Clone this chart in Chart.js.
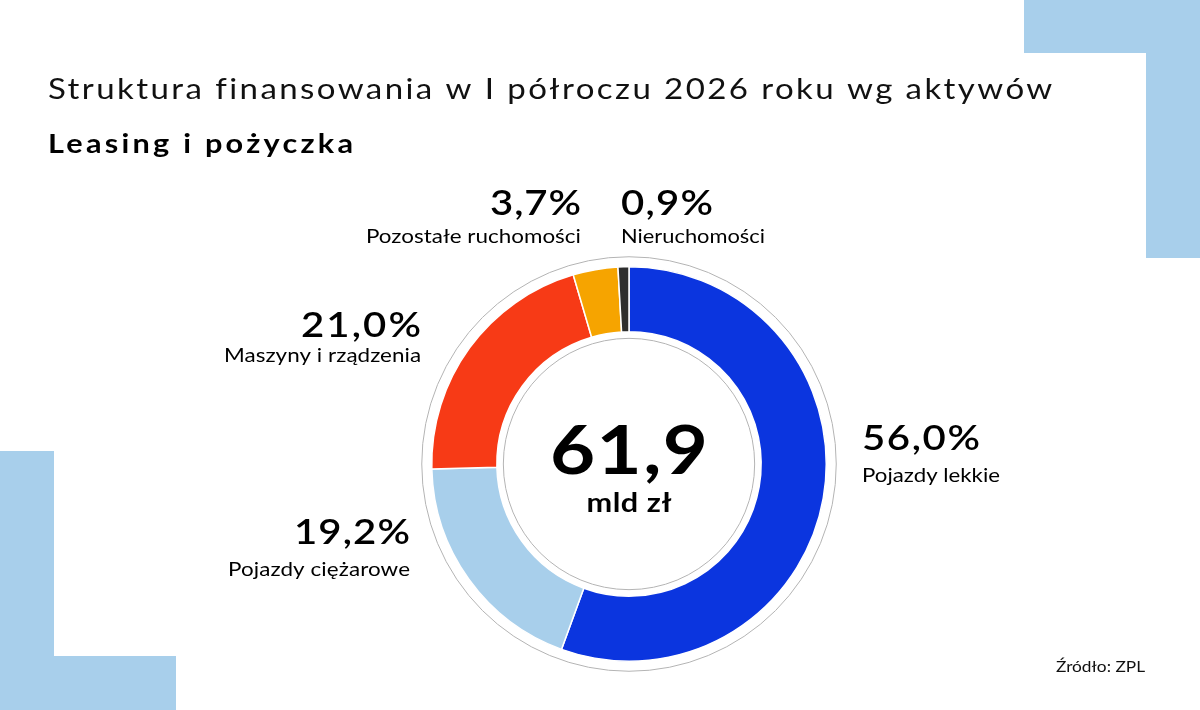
<!DOCTYPE html>
<html>
<head>
<meta charset="utf-8">
<script src="https://cdn.jsdelivr.net/npm/chart.js@4.4.1/dist/chart.umd.min.js"></script>
<style>
  html, body { margin: 0; padding: 0; background: #ffffff; }
  #wrap { position: relative; width: 1200px; height: 710px; overflow: hidden; background: #fff; }
  .deco { position: absolute; background: #a8cfeb; }
  canvas { position: absolute; left: 0; top: 0; }
</style>
</head>
<body>
<div id="wrap">
  <div class="deco" style="left:1024px;top:0;width:176px;height:53px"></div>
  <div class="deco" style="left:1146px;top:0;width:54px;height:258px"></div>
  <div class="deco" style="left:0;top:451px;width:54px;height:259px"></div>
  <div class="deco" style="left:0;top:656px;width:176px;height:54px"></div>
  <canvas id="c" width="1200" height="710"></canvas>
</div>
<script>
// ---- data ----
const titleText = 'Struktura finansowania w I półroczu 2026 roku wg aktywów';
const subtitleText = 'Leasing i pożyczka';
const categories = ['Pojazdy lekkie', 'Pojazdy ciężarowe', 'Maszyny i rządzenia', 'Pozostałe ruchomości', 'Nieruchomości'];
const shares = [56.0, 19.2, 21.0, 3.7, 0.9];
const totalValue = '61,9';
const totalUnit = 'mld zł';
const sourceText = 'Źródło: ZPL';

// ---- styles / layout ----
const sliceColors = ['#0b35df', '#a8cfeb', '#f73a16', '#f6a400', '#2e2e2e'];
const FONT = 'Lato, "Noto Sans", sans-serif';
// per-category label layout: anchor x, alignment, baselines, target widths
const labelLayout = [
  { x: 862, align: 'left',  pctY: 450, nameY: 482, pctW: 118, nameW: 138 },
  { x: 410, align: 'right', pctY: 544, nameY: 576, pctW: 116, nameW: 182 },
  { x: 421, align: 'right', pctY: 337, nameY: 362, pctW: 120, nameW: 197 },
  { x: 581, align: 'right', pctY: 215, nameY: 243, pctW: 91,  nameW: 215 },
  { x: 621, align: 'left',  pctY: 215, nameY: 243, pctW: 92,  nameW: 144 }
];

function fmtPct(v) { return v.toFixed(1).replace('.', ',') + '%'; }

function drawFitted(ctx, text, x, y, font, align, targetW, color, maxScale) {
  ctx.save();
  ctx.font = font;
  ctx.fillStyle = color || '#000';
  ctx.textBaseline = 'alphabetic';
  ctx.textAlign = 'left';
  const hasLS = ('letterSpacing' in ctx);
  if (hasLS) ctx.letterSpacing = '0px';
  const w = ctx.measureText(text).width;
  let startX = x;
  if (align === 'right') startX = x - targetW;
  else if (align === 'center') startX = x - targetW / 2;
  const n = [...text].length;
  const ratio = targetW / w;
  const ms = maxScale || 1.18;
  let sx = ratio < 1 ? ratio : Math.min(ratio, ms);
  if (!hasLS) sx = ratio;
  ctx.translate(startX, y);
  ctx.scale(sx, 1);
  if (hasLS && n > 1 && ratio > sx) {
    const sp = (targetW / sx - w) / (n - 1);
    ctx.letterSpacing = sp.toFixed(2) + 'px';
  }
  ctx.fillText(text, 0, 0);
  ctx.restore();
}

const decorPlugin = {
  id: 'decor',
  afterDatasetsDraw(chart) {
    const ctx = chart.ctx;
    const arc = chart.getDatasetMeta(0).data[0];
    if (!arc) return;
    const p = arc.getProps(['x', 'y', 'outerRadius', 'innerRadius'], true);
    ctx.save();
    ctx.strokeStyle = '#b4b4b4';
    ctx.lineWidth = 1;
    ctx.beginPath();
    ctx.arc(p.x, p.y, p.outerRadius + 10, 0, Math.PI * 2);
    ctx.stroke();
    ctx.beginPath();
    ctx.arc(p.x, p.y, p.innerRadius - 6.5, 0, Math.PI * 2);
    ctx.stroke();
    ctx.restore();
  },
  afterDraw(chart) {
    const ctx = chart.ctx;
    const arc = chart.getDatasetMeta(0).data[0];
    const cx = arc.x;
    drawFitted(ctx, titleText, 48, 99, '400 28px ' + FONT, 'left', 1004, '#111');
    drawFitted(ctx, subtitleText, 48, 153, '700 26px ' + FONT, 'left', 305, '#000');
    categories.forEach((name, i) => {
      const L = labelLayout[i];
      drawFitted(ctx, fmtPct(shares[i]), L.x, L.pctY, '600 34px ' + FONT, L.align, L.pctW, '#000');
      drawFitted(ctx, name, L.x, L.nameY, '400 19px ' + FONT, L.align, L.nameW, '#000');
    });
    drawFitted(ctx, totalValue, cx, 474, '700 66px ' + FONT, 'center', 158, '#000');
    drawFitted(ctx, totalUnit, cx, 512, '700 26px ' + FONT, 'center', 85, '#000');
    drawFitted(ctx, sourceText, 1145, 672, '400 15px ' + FONT, 'right', 89, '#111');
  }
};

new Chart(document.getElementById('c'), {
  type: 'doughnut',
  data: {
    labels: categories,
    datasets: [{
      data: shares,
      backgroundColor: sliceColors,
      borderColor: '#ffffff',
      borderWidth: 1.5,
      hoverOffset: 0
    }]
  },
  options: {
    responsive: false,
    animation: false,
    events: [],
    cutout: '67%',
    rotation: 0,
    layout: { padding: { top: 266, bottom: 48, left: 431, right: 373 } },
    plugins: { legend: { display: false }, tooltip: { enabled: false } }
  },
  plugins: [decorPlugin]
});
</script>
</body>
</html>
